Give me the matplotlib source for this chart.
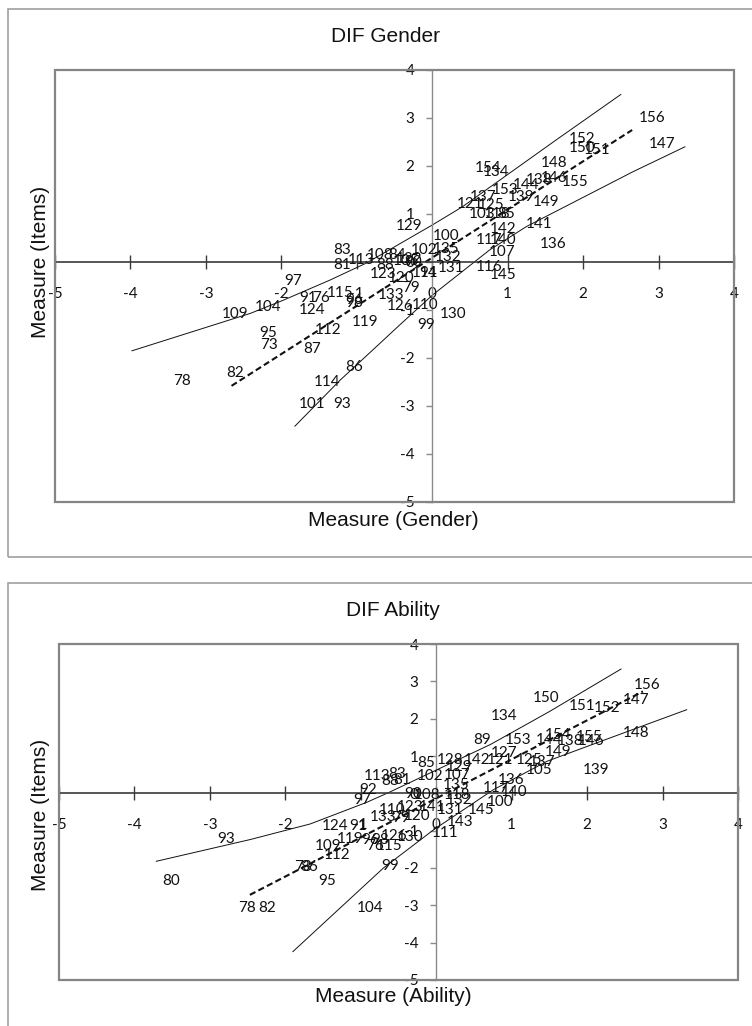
import matplotlib
matplotlib.use('Agg')
import matplotlib.pyplot as plt
from matplotlib.patches import Rectangle

W, H = 752, 1026

# ---- DIF Gender panel ----
g_items = [156, 147, 152, 150, 151, 154, 134, 148, 144, 138, 146, 155, 153, 139, 149,
           137, 121, 125, 103, 118, 85, 142, 141, 117, 140, 107, 136, 100, 129, 102, 135,
           132, 131, 116, 145, 111, 94, 120, 123, 88, 108, 84, 113, 105, 122, 90, 83, 81,
           79, 133, 126, 110, 97, 109, 104, 91, 76, 115, 124, 98, 96, 112, 119, 95, 73,
           87, 78, 82, 86, 114, 101, 93, 130, 99]
g_x = [2.92, 3.05, 1.99, 1.99, 2.19, 0.74, 0.85, 1.61, 1.25, 1.41, 1.62, 1.90, 0.97, 1.18, 1.51,
       0.67, 0.50, 0.78, 0.66, 0.86, 0.98, 0.94, 1.42, 0.76, 0.94, 0.93, 1.60, 0.19, -0.30, -0.11, 0.18,
       0.21, 0.25, 0.76, 0.94, -0.10, -0.05, -0.41, -0.65, -0.63, -0.69, -0.47, -0.94, -0.34, -0.30, -0.25, -1.20, -1.20,
       -0.28, -0.54, -0.43, -0.10, -1.85, -2.61, -2.17, -1.64, -1.47, -1.22, -1.59, -1.03, -1.03, -1.38, -0.89, -2.17, -2.17,
       -1.59, -3.32, -2.61, -1.04, -1.40, -1.59, -1.20, 0.28, -0.08]
g_y = [2.99, 2.46, 2.56, 2.37, 2.33, 1.95, 1.88, 2.06, 1.60, 1.71, 1.74, 1.67, 1.50, 1.36, 1.26,
       1.36, 1.21, 1.19, 1.00, 1.00, 1.00, 0.68, 0.79, 0.46, 0.46, 0.21, 0.37, 0.55, 0.76, 0.25, 0.27,
       0.11, -0.13, -0.10, -0.27, -0.22, -0.22, -0.34, -0.24, -0.06, 0.15, 0.15, 0.04, 0.02, 0.06, 0.00, 0.25, -0.06,
       -0.55, -0.69, -0.92, -0.90, -0.39, -1.09, -0.93, -0.76, -0.76, -0.65, -1.00, -0.86, -0.80, -1.42, -1.26, -1.47, -1.73,
       -1.82, -2.48, -2.31, -2.18, -2.49, -2.96, -2.96, -1.08, -1.31]
g_upper_x = [-3.98, -2.41, -1.98, -1.36, -0.87, 0.00, 0.40, 1.64, 2.50]
g_upper_y = [-1.85, -1.07, -0.80, -0.38, -0.02, 0.77, 1.15, 2.54, 3.49]
g_lower_x = [-1.82, -1.22, -0.69, -0.43, 0.01, 0.76, 1.25, 2.66, 3.35]
g_lower_y = [-3.42, -2.46, -1.69, -1.31, -0.68, 0.25, 0.74, 1.88, 2.40]
g_ident_x = [-2.66, 2.65]
g_ident_y = [-2.58, 2.75]

# ---- DIF Ability panel ----
a_items = [156, 147, 152, 151, 150, 134, 148, 89, 153, 144, 154, 138, 155, 146, 149,
           127, 128, 142, 121, 125, 137, 129, 107, 102, 85, 105, 139, 136, 117, 140, 100,
           145, 131, 143, 111, 132, 135, 118, 108, 90, 113, 83, 88, 81, 92, 97, 123, 110,
           141, 133, 79, 120, 124, 91, 119, 96, 98, 126, 130, 76, 115, 109, 112, 73, 86,
           95, 93, 80, 78, 82, 104, 99]
a_x = [2.80, 2.65, 2.27, 1.94, 1.45, 0.90, 2.65, 0.61, 1.08, 1.50, 1.61, 1.78, 2.03, 2.05, 1.62,
       0.90, 0.19, 0.54, 0.85, 1.23, 1.40, 0.30, 0.28, -0.08, -0.14, 1.36, 2.12, 0.99, 0.79, 1.03, 0.85,
       0.59, 0.19, 0.32, 0.12, 0.30, 0.26, 0.28, -0.12, -0.30, -0.78, -0.52, -0.61, -0.45, -0.90, -0.98, -0.34, -0.58,
       -0.05, -0.70, -0.47, -0.25, -1.34, -1.03, -1.14, -0.87, -0.74, -0.56, -0.34, -0.81, -0.63, -1.43, -1.31, -1.76, -1.69,
       -1.45, -2.78, -3.52, -2.51, -2.24, -0.87, -0.61]
a_y = [2.91, 2.51, 2.29, 2.35, 2.56, 2.06, 1.62, 1.42, 1.42, 1.44, 1.57, 1.41, 1.51, 1.41, 1.10,
       1.08, 0.90, 0.90, 0.90, 0.88, 0.85, 0.71, 0.50, 0.46, 0.80, 0.62, 0.62, 0.37, 0.14, 0.04, -0.24,
       -0.44, -0.44, -0.78, -1.05, -0.19, 0.23, -0.04, -0.04, -0.02, 0.46, 0.53, 0.32, 0.37, 0.10, -0.17, -0.36, -0.44,
       -0.36, -0.64, -0.66, -0.62, -0.88, -0.88, -1.22, -1.24, -1.24, -1.15, -1.17, -1.42, -1.40, -1.42, -1.64, -1.96, -1.96,
       -2.36, -1.22, -2.36, -3.06, -3.06, -3.06, -1.94]
a_upper_x = [-3.71, -2.47, -1.67, -0.92, -0.61, 0.72, 1.50, 2.45]
a_upper_y = [-1.82, -1.24, -0.82, -0.24, 0.04, 1.31, 2.19, 3.33]
a_lower_x = [-1.90, -0.70, -0.03, 0.76, 1.47, 2.54, 3.32]
a_lower_y = [-4.24, -2.00, -0.97, 0.10, 0.86, 1.66, 2.24]
a_ident_x = [-2.47, 2.74]
a_ident_y = [-2.72, 2.73]

ticks_x = [-5, -4, -3, -2, -1, 0, 1, 2, 3, 4]
ticks_y = [-5, -4, -3, -2, -1, 0, 1, 2, 3, 4]

LABEL_FONT = ['Lato', 'DejaVu Sans']
TITLE_FONT = ['Liberation Sans', 'DejaVu Sans']


def px_rect(l, t, r, b):
    return [l / W, 1 - b / H, (r - l) / W, (b - t) / H]


def panel(fig, rect, items, xs, ys, up_x, up_y, lo_x, lo_y, id_x, id_y):
    ax = fig.add_axes(px_rect(*rect))
    ax.set_xlim(-5, 4)
    ax.set_ylim(-5, 4)
    for s in ['top', 'right']:
        ax.spines[s].set_visible(False)
    ax.spines['left'].set_position(('data', 0))
    ax.spines['bottom'].set_position(('data', 0))
    ax.spines['left'].set_color('#8a8a8a')
    ax.spines['left'].set_linewidth(1.0)
    ax.spines['bottom'].set_color('#3a3a3a')
    ax.spines['bottom'].set_linewidth(1.2)
    ax.add_patch(Rectangle((0, 0), 1, 1, transform=ax.transAxes, fill=False,
                           ec='#858585', lw=1.6, clip_on=False, zorder=5))
    ax.set_xticks(ticks_x)
    ax.set_yticks(ticks_y)
    ax.set_xticklabels([str(t) for t in ticks_x])
    ax.set_yticklabels([str(t) for t in ticks_y])
    ax.tick_params(axis='x', direction='inout', length=10, width=1, color='#3a3a3a',
                   pad=13, labelsize=11, labelcolor='#111111')
    ax.tick_params(axis='y', direction='out', length=4, width=1, color='#8a8a8a',
                   pad=9, labelsize=11, labelcolor='#111111')
    for lab in ax.get_xticklabels() + ax.get_yticklabels():
        lab.set_family(LABEL_FONT)

    ax.plot(up_x, up_y, color='#111111', lw=0.7)
    ax.plot(lo_x, lo_y, color='#111111', lw=0.7)
    ax.plot(id_x, id_y, color='#111111', lw=1.5, dashes=(3, 1.6))
    for it, x, y in zip(items, xs, ys):
        ax.text(x, y, str(it), ha='center', va='center', fontsize=11,
                family=LABEL_FONT, color='#111111', zorder=6)
    return ax


fig = plt.figure(figsize=(W / 100, H / 100), dpi=100)

# outer chart borders
fig.patches.append(Rectangle((8 / W, 1 - 557 / H), 760 / W, (557 - 9) / H,
                             transform=fig.transFigure, fill=False, ec='#a0a0a0', lw=1.2))
fig.patches.append(Rectangle((8 / W, 1 - 1040 / H), 760 / W, (1040 - 583) / H,
                             transform=fig.transFigure, fill=False, ec='#a0a0a0', lw=1.2))

panel(fig, (55, 70, 734, 502), g_items, g_x, g_y,
      g_upper_x, g_upper_y, g_lower_x, g_lower_y, g_ident_x, g_ident_y)
panel(fig, (59, 644, 738, 980), a_items, a_x, a_y,
      a_upper_x, a_upper_y, a_lower_x, a_lower_y, a_ident_x, a_ident_y)

fig.text(385 / W, 1 - 36 / H, 'DIF Gender', ha='center', va='center', fontsize=15,
         family=TITLE_FONT, color='#111111')
fig.text(393 / W, 1 - 520 / H, 'Measure (Gender)', ha='center', va='center', fontsize=15,
         family=TITLE_FONT, color='#111111')
fig.text(41 / W, 1 - 262 / H, 'Measure (Items)', ha='center', va='center', fontsize=15,
         family=TITLE_FONT, color='#111111', rotation=90)

fig.text(393 / W, 1 - 611 / H, 'DIF Ability', ha='center', va='center', fontsize=15,
         family=TITLE_FONT, color='#111111')
fig.text(393 / W, 1 - 996 / H, 'Measure (Ability)', ha='center', va='center', fontsize=15,
         family=TITLE_FONT, color='#111111')
fig.text(41 / W, 1 - 815 / H, 'Measure (Items)', ha='center', va='center', fontsize=15,
         family=TITLE_FONT, color='#111111', rotation=90)

fig.savefig('out.png', dpi=100)
